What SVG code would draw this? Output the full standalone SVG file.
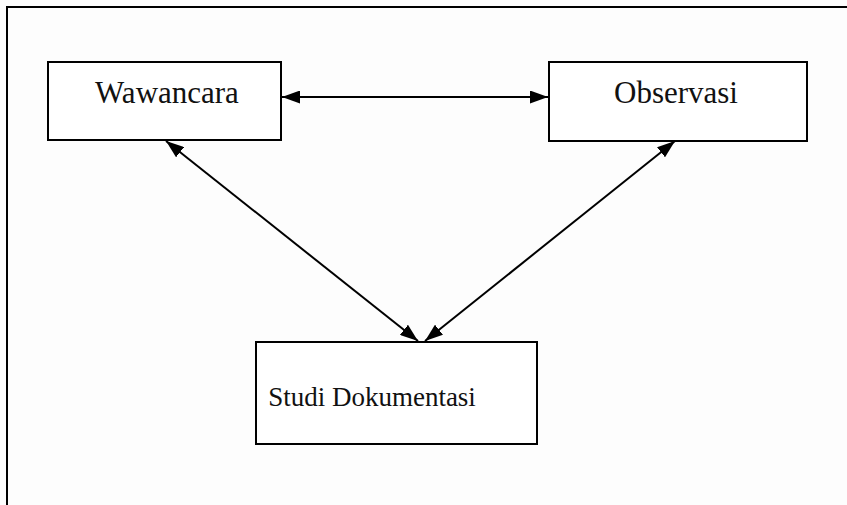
<svg xmlns="http://www.w3.org/2000/svg" width="847" height="505" viewBox="0 0 847 505">
  <defs>
    <marker id="head" viewBox="0 0 18 13" refX="18" refY="6.5" markerWidth="18" markerHeight="13" markerUnits="userSpaceOnUse" orient="auto-start-reverse">
      <path d="M0,0 L18,6.5 L0,13 Z" fill="#000"/>
    </marker>
  </defs>
  <style>
    .box { fill: #fff; stroke: #000; stroke-width: 2; }
    .frame { fill: none; stroke: #000; stroke-width: 2; }
    .label { font-family: "Liberation Serif", "Times New Roman", serif; font-size: 31px; fill: #111; text-anchor: middle; }
    .label.small { font-size: 27px; }
    .link { stroke: #000; stroke-width: 2; fill: none; marker-start: url(#head); marker-end: url(#head); }
  </style>
  <rect width="847" height="505" fill="#fdfdfd"/>
  <!-- outer frame, open on the right and bottom -->
  <path class="frame" d="M7,505 L7,7 L847,7"/>

  <g id="connectors">
    <line class="link" x1="282" y1="97" x2="548" y2="97"/>
    <line class="link" x1="166" y1="141" x2="418" y2="341"/>
    <line class="link" x1="675" y1="141" x2="425" y2="341"/>
  </g>

  <g id="wawancara">
    <rect class="box" x="48" y="62" width="233" height="78"/>
    <text class="label" x="167" y="103">Wawancara</text>
  </g>

  <g id="observasi">
    <rect class="box" x="549" y="62" width="258" height="79"/>
    <text class="label" x="676" y="103">Observasi</text>
  </g>

  <g id="studi-dokumentasi">
    <rect class="box" x="256" y="342" width="281" height="102"/>
    <text class="label small" x="372" y="406">Studi Dokumentasi</text>
  </g>
</svg>
